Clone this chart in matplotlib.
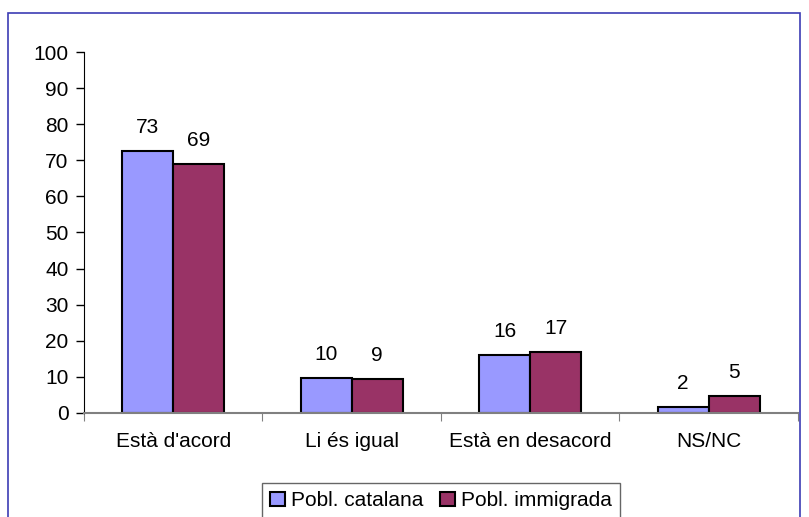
import matplotlib
matplotlib.use("Agg")
from matplotlib import pyplot as plt
from matplotlib.patches import Rectangle
import numpy as np

# Data
categories = ["Està d'acord", "Li és igual", "Està en desacord", "NS/NC"]
catalana = [72.6, 9.6, 16.0, 1.7]
immigrada = [68.9, 9.4, 16.9, 4.8]
catalana_labels = ["73", "10", "16", "2"]
immigrada_labels = ["69", "9", "17", "5"]

plt.rcParams['font.family'] = ['Liberation Sans', 'DejaVu Sans']
fs = 15

fig = plt.figure(figsize=(8.09, 5.17), dpi=100)
ax = fig.add_axes([0.1038, 0.2012, 0.8826, 0.6982])

x = np.arange(len(categories))
w = 1 / 3.5
b1 = ax.bar(x - w / 2, catalana, w, color="#9999FF", edgecolor="black", linewidth=1.5,
            label="Pobl. catalana")
b2 = ax.bar(x + w / 2, immigrada, w, color="#993366", edgecolor="black", linewidth=1.5,
            label="Pobl. immigrada")
ax.bar_label(b1, labels=catalana_labels, padding=10, fontsize=fs)
ax.bar_label(b2, labels=immigrada_labels, padding=10, fontsize=fs)

ax.set_xlim(-0.5, len(categories) - 0.5)
ax.set_ylim(0, 100)
ax.set_yticks(range(0, 101, 10))
ax.tick_params(axis="y", labelsize=fs, length=6, width=1, direction="out", pad=5)

# category boundaries as ticks, labels at centres
ax.set_xticks(np.arange(-0.5, len(categories), 1))
ax.set_xticklabels([])
ax.set_xticks(x, minor=True)
ax.set_xticklabels(categories, minor=True)
ax.tick_params(axis="x", which="major", length=6, color="#808080")
ax.tick_params(axis="x", which="minor", length=0, labelsize=fs, pad=14)

ax.spines["top"].set_visible(False)
ax.spines["right"].set_visible(False)
ax.spines["left"].set_color("black")
ax.spines["bottom"].set_color("#808080")
ax.spines["bottom"].set_linewidth(1.5)

leg = fig.legend(loc="upper left", bbox_to_anchor=(262 / 809, 1 - 483 / 517), ncol=2,
                 fontsize=fs, frameon=True, fancybox=False, handlelength=0.7,
                 handleheight=0.7, handletextpad=0.3, columnspacing=0.8,
                 borderpad=0.4, borderaxespad=0)
leg.get_frame().set_edgecolor("#404040")
leg.get_frame().set_linewidth(1)

# outer chart border (bottom runs off the picture)
fig.patches.append(Rectangle((8 / 809, -0.05), 792 / 809, 0.05 + (517 - 13) / 517,
                             transform=fig.transFigure, fill=False,
                             edgecolor="#3c3cb4", linewidth=1.2))

fig.savefig("out.png", dpi=100)
